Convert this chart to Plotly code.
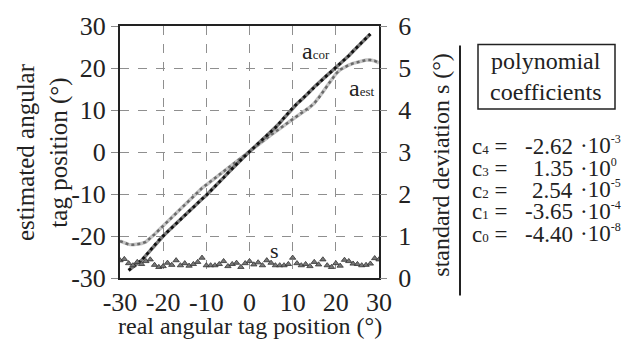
import plotly.graph_objects as go

# ---------------- data ----------------
x_est = list(range(-30, 31))
a_est = [-21.2, -21.6, -22.0, -22.1, -22.0, -21.8, -21.4, -20.6, -19.6, -18.6,
         -17.6, -16.6, -15.7, -14.7, -13.6, -12.6, -11.6, -10.6, -9.5, -8.6,
         -7.8, -7.0, -6.2, -5.4, -4.6, -3.8, -3.0, -2.3, -1.5, -0.7,
         0.1, 0.9, 1.8, 2.7, 3.4, 4.1, 4.8, 5.6, 6.3, 7.0,
         7.8, 8.5, 9.2, 9.9, 10.7, 11.6, 12.8, 14.3, 15.8, 17.3,
         18.6, 19.6, 20.2, 20.7, 21.1, 21.4, 21.7, 21.9, 21.9, 21.7, 21.2]

x_cor = list(range(-28, 29))
a_cor = [-28.2, -27.3, -26.5, -25.8, -24.6, -23.3, -22.1, -21.0, -20.0, -19.0,
         -18.0, -17.0, -16.0, -15.0, -14.0, -13.1, -12.2, -11.2, -10.3, -9.3,
         -8.3, -7.2, -6.1, -5.0, -3.9, -2.9, -1.9, -0.9, 0.1,
         1.0, 1.9, 2.9, 3.9, 4.9, 5.8, 6.9, 8.1, 9.3, 10.5,
         11.5, 12.4, 13.3, 14.4, 15.5, 16.5, 17.4, 18.3, 19.2, 20.1,
         21.0, 21.9, 22.9, 24.0, 25.1, 26.1, 27.1, 28.1]

x_s = list(range(-30, 31))
s_vals = [0.42, 0.45, 0.35, 0.30, 0.38, 0.33, 0.40, 0.44, 0.31, 0.26,
          0.28, 0.36, 0.31, 0.42, 0.30, 0.35, 0.29, 0.33, 0.38, 0.48,
          0.30, 0.30, 0.30, 0.33, 0.40, 0.28, 0.33, 0.36, 0.26, 0.35,
          0.40, 0.32, 0.37, 0.30, 0.42, 0.36, 0.30, 0.30, 0.30, 0.33,
          0.48, 0.35, 0.30, 0.33, 0.28, 0.38, 0.32, 0.44, 0.30, 0.26,
          0.35, 0.29, 0.43, 0.40, 0.34, 0.33, 0.30, 0.31, 0.34, 0.47, 0.44]

x_ticks = [-30, -20, -10, 0, 10, 20, 30]
y_ticks = [-30, -20, -10, 0, 10, 20, 30]
s_ticks = [0, 1, 2, 3, 4, 5, 6]

coef_idx = ["4", "3", "2", "1", "0"]
coef_mant = ["-2.62", "1.35", "2.54", "-3.65", "-4.40"]
coef_exp = ["-3", "0", "-5", "-4", "-8"]

# ---------------- figure ----------------
FONT = "Liberation Serif"
W, H = 644, 341
L, R, T, B = 120, 379, 20, 278

fig = go.Figure()

fig.add_trace(go.Scatter(x=x_est, y=a_est, mode="lines", line=dict(color="#c4c4c4", width=3.5),
                         showlegend=False, hoverinfo="skip"))
fig.add_trace(go.Scatter(x=x_est, y=a_est, mode="lines", line=dict(color="#6a6a6a", width=2.5, dash="dot"),
                         showlegend=False))
fig.add_trace(go.Scatter(x=x_cor, y=a_cor, mode="lines", line=dict(color="#7a7a7a", width=3.5),
                         showlegend=False, hoverinfo="skip"))
fig.add_trace(go.Scatter(x=x_cor, y=a_cor, mode="lines", line=dict(color="#111111", width=2.8, dash="dot"),
                         showlegend=False))
fig.add_trace(go.Scatter(x=x_s, y=s_vals, mode="markers", yaxis="y2",
                         marker=dict(symbol="triangle-up", size=5.5, color="#777777",
                                     line=dict(color="#333333", width=0.8)),
                         showlegend=False))

def px2paper(px, py):
    return (px - L) / (R - L), (B - py) / (B - T)

ann = []
def add_text(px, py, text, size, xanchor="center", yanchor="middle", angle=0):
    xp, yp = px2paper(px, py)
    ann.append(dict(x=xp, y=yp, xref="paper", yref="paper", text=text, showarrow=False,
                    xanchor=xanchor, yanchor=yanchor, textangle=angle,
                    font=dict(family=FONT, size=size, color="#222222")))

def small(t, sz):
    return "<span style='font-size:%dpx'>%s</span>" % (sz, t)

add_text(316, 46, "a" + small("cor", 13), 24)
add_text(361, 83, "a" + small("est", 13), 24)
add_text(274, 250, "s", 22)

# axis titles
add_text(42, 149, "estimated angular<br>tag position (°)", 25, angle=-90)
add_text(250, 327, "real angular tag position (°)", 24)
add_text(441, 162, "standard deviation s (°)", 24, angle=-90)

# box title
add_text(546, 72, "polynomial<br>coefficients", 24)

# coefficients
ys = [143, 166, 188, 210, 233]
for yv, ix, mt, ex in zip(ys, coef_idx, coef_mant, coef_exp):
    add_text(470, yv, "c" + small(ix, 13) + " =", 23, xanchor="left")
    add_text(575, yv, mt, 23, xanchor="right")
    add_text(578, yv - 1, "·10<sup>" + small(ex, 12) + "</sup>", 23, xanchor="left")

shapes = []
x0, y0 = px2paper(460, 40)
x1, y1 = px2paper(460, 296)
shapes.append(dict(type="line", xref="paper", yref="paper", x0=x0, y0=y0, x1=x1, y1=y1,
                   line=dict(color="#222222", width=2)))
bx0, by0 = px2paper(478, 39)
bx1, by1 = px2paper(615, 105)
shapes.append(dict(type="rect", xref="paper", yref="paper", x0=bx0, y0=by0, x1=bx1, y1=by1,
                   line=dict(color="#222222", width=1.5)))

fig.update_layout(
    width=W, height=H,
    margin=dict(l=L, r=W - R, t=T, b=H - B, pad=0),
    paper_bgcolor="white", plot_bgcolor="white",
    font=dict(family=FONT, size=24, color="#222222"),
    xaxis=dict(range=[-30, 30], tickvals=x_ticks, ticktext=[str(v) for v in x_ticks],
               showgrid=True, gridcolor="#8f8f8f", griddash="dash", gridwidth=1,
               zeroline=False, showline=True, linecolor="#222222", linewidth=2, mirror=True,
               ticks="", tickfont=dict(family=FONT, size=26)),
    yaxis=dict(range=[-30, 30], tickvals=y_ticks, ticktext=[str(v) for v in y_ticks],
               showgrid=True, gridcolor="#8f8f8f", griddash="dash", gridwidth=1,
               zeroline=False, showline=True, linecolor="#222222", linewidth=2, mirror=True,
               ticks="outside", ticklen=7, tickcolor="#8a8a8a", tickwidth=1,
               tickfont=dict(family=FONT, size=26)),
    yaxis2=dict(range=[0, 6], tickvals=s_ticks, overlaying="y", side="right",
                showgrid=False, zeroline=False, showline=False,
                ticks="outside", ticklen=7, tickcolor="#8a8a8a", tickwidth=1,
                ticklabelstandoff=6,
                tickfont=dict(family=FONT, size=26)),
    annotations=ann, shapes=shapes,
)

fig.write_html("out.html")
